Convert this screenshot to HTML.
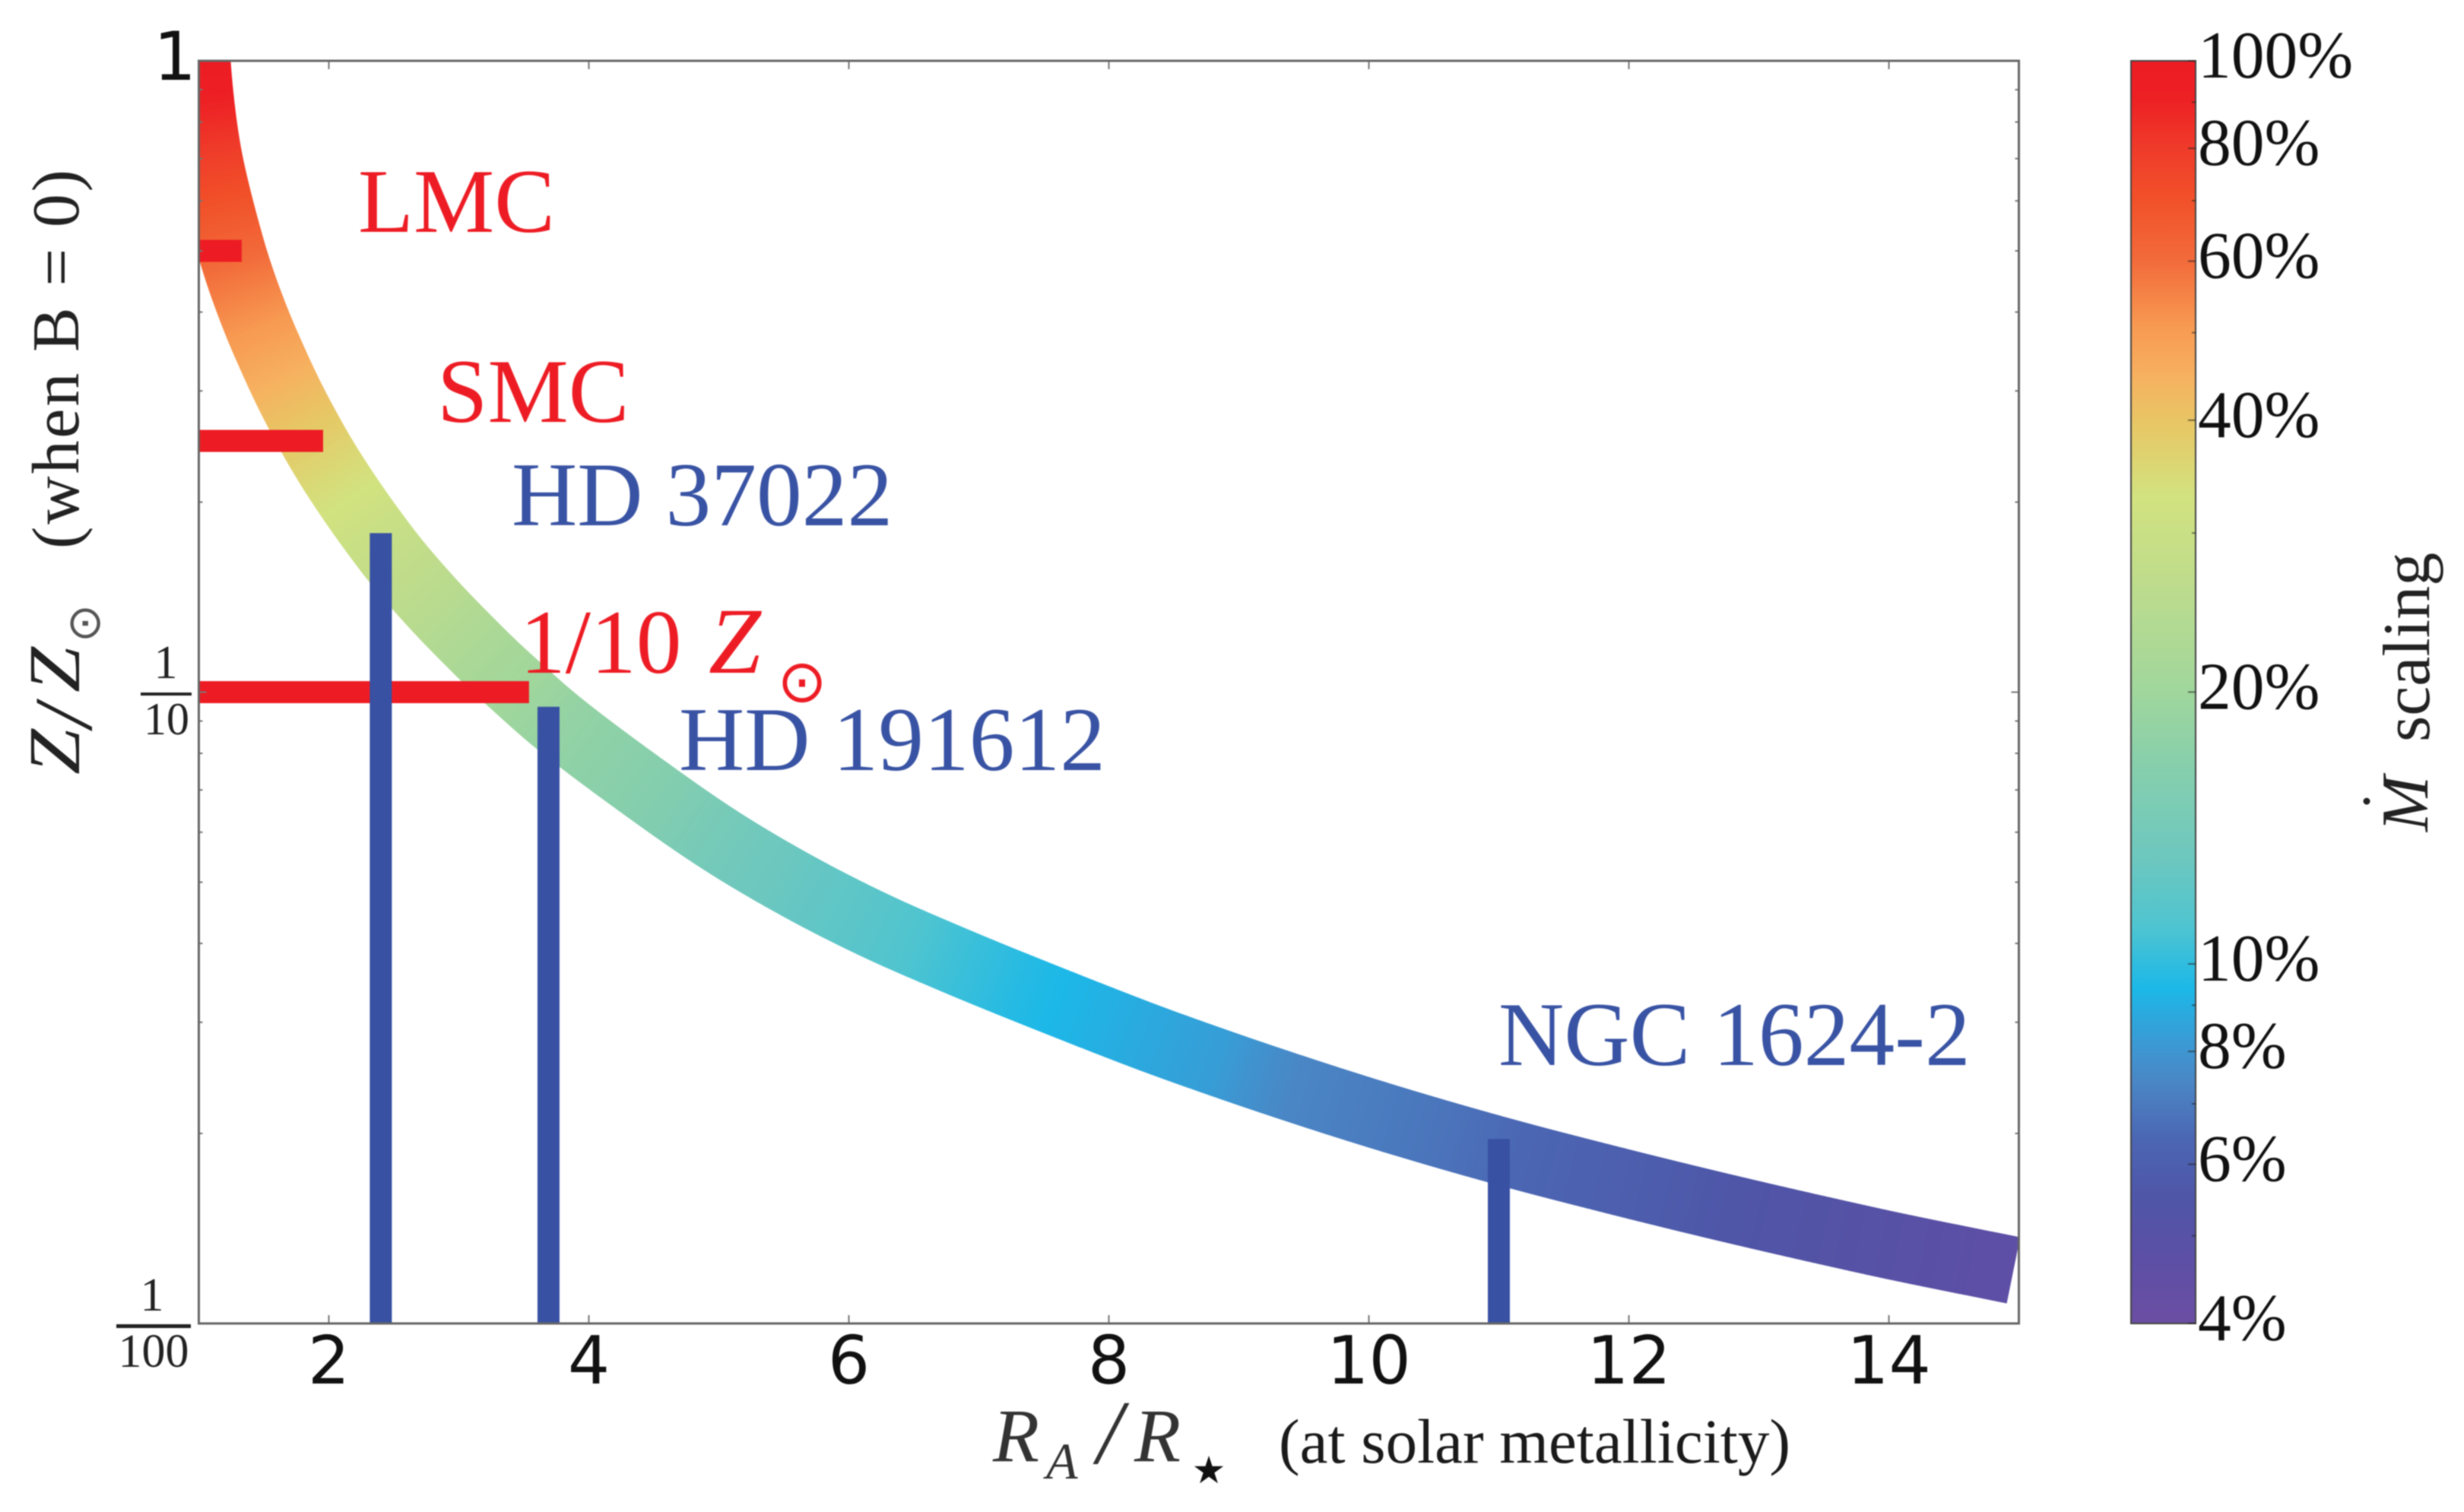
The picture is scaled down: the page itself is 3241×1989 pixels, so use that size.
<!DOCTYPE html>
<html lang="en">
<head>
<meta charset="utf-8">
<title>Metallicity vs Alfven radius chart</title>
<style>
html,body{margin:0;padding:0;background:#fff;width:3241px;height:1989px;overflow:hidden}
svg{display:block;position:absolute;left:0;top:0;filter:blur(0.7px)}
.serif{font-family:"Liberation Serif",serif}
.sans{font-family:"DejaVu Sans","Liberation Sans",sans-serif}
.dv{font-family:"DejaVu Sans",sans-serif}
</style>
</head>
<body>
<svg id="chart" xmlns="http://www.w3.org/2000/svg" width="3241" height="1989" viewBox="0 0 3241 1989">
  <defs>
    <clipPath id="plot-clip"><rect x="262" y="80" width="393" height="1661"/></clipPath>
    <linearGradient id="cbar-gradient" x1="0" y1="80" x2="0" y2="1741" gradientUnits="userSpaceOnUse"></linearGradient>
  </defs>
  <g id="curve-layer"></g>
  <g id="red-layer"></g>
  <g id="blue-layer"></g>
  <g id="frame-layer"></g>
  <g id="xtick-labels"></g>

  <text class="sans" x="258" y="105" font-size="88" text-anchor="end" fill="#111">1</text>

  <g fill="#222">
    <text class="serif" x="218" y="892" font-size="62" text-anchor="middle">1</text>
    <rect x="185" y="911" width="67" height="4"/>
    <text class="serif" x="219" y="966" font-size="60" text-anchor="middle">10</text>
  </g>
  <g fill="#222">
    <text class="serif" x="200" y="1724" font-size="62" text-anchor="middle">1</text>
    <rect x="153" y="1742" width="98" height="5"/>
    <text class="serif" x="202" y="1798" font-size="62" text-anchor="middle">100</text>
  </g>

  <g fill="#222">
    <text class="serif" transform="translate(104,1019) rotate(-90)" font-size="96" font-style="italic" textLength="60" lengthAdjust="spacingAndGlyphs">Z</text>
    <text class="serif" transform="translate(120,957) rotate(-90)" font-size="108" font-style="italic">/</text>
    <text class="serif" transform="translate(104,911) rotate(-90)" font-size="96" font-style="italic" textLength="60" lengthAdjust="spacingAndGlyphs">Z</text>
    <text class="dv" transform="translate(131,820) rotate(-90)" font-size="60" text-anchor="middle" fill="#555">⊙</text>
    <text class="serif" transform="translate(103,722) rotate(-90)" font-size="88" textLength="499" lengthAdjust="spacing">(when B = 0)</text>
  </g>

  <g fill="#333">
    <text class="serif" x="1306" y="1922" font-size="100" font-style="italic">R</text>
    <text class="serif" x="1376" y="1945" font-size="68" font-style="italic">A</text>
    <text class="serif" x="1443" y="1925" font-size="120" font-style="italic">/</text>
    <text class="serif" x="1492" y="1922" font-size="100" font-style="italic">R</text>
    <text class="dv" x="1590" y="1951" font-size="50" text-anchor="middle" fill="#111">★</text>
    <text class="serif" x="1682" y="1924" font-size="83" fill="#1a1a1a">(at solar metallicity)</text>
  </g>

  <g font-size="119.5">
    <text class="serif" x="471" y="305" fill="#ed1c24">LMC</text>
    <text class="serif" x="575" y="555" fill="#ed1c24">SMC</text>
    <text class="serif" x="673" y="691" fill="#3953a4">HD 37022</text>
    <text class="serif" x="684" y="885" fill="#ed1c24">1/10</text>
    <text class="serif" x="932" y="885" fill="#ed1c24" font-size="124" font-style="italic">Z</text>
    <text class="dv" x="1055" y="923" font-size="78" text-anchor="middle" fill="#ed1c24">⊙</text>
    <text class="serif" x="893" y="1013" fill="#3953a4">HD 191612</text>
    <text class="serif" x="1971" y="1401" fill="#3953a4">NGC 1624-2</text>
  </g>

  <rect id="cbar" x="2803" y="80" width="85" height="1661" fill="url(#cbar-gradient)" stroke="#444" stroke-width="2"/>
  <g id="cbar-ticks"></g>
  <g id="cbar-labels"></g>

  <g fill="#222">
    <text class="serif" transform="translate(3193,1094) rotate(-90)" font-size="88" font-style="italic">M</text>
    <circle cx="3113" cy="1054" r="4.5"/>
    <text class="serif" transform="translate(3195,976) rotate(-90)" font-size="88">scaling</text>
  </g>
</svg>

<script>
// ---- Chart data ----
var curveRA   = [0.97, 0.985, 1.035, 1.105, 1.254, 1.37, 1.5175, 1.7456, 2.0357, 2.4415, 2.7836, 3.1608, 3.3889, 3.7865, 4.4415, 5.0263, 5.6111, 6.196, 6.781, 7.365, 8.243, 8.827, 9.412, 9.997, 10.582, 11.167, 11.752, 12.336, 12.921, 13.506, 14.09, 14.956];
var curveLogZ = [-0.1, 0, 0.1023, 0.183, 0.301, 0.3733, 0.4491, 0.5491, 0.6538, 0.773, 0.8561, 0.9362, 0.9807, 1.0524, 1.1535, 1.2366, 1.3076, 1.369, 1.422, 1.4714, 1.5424, 1.5858, 1.6267, 1.6653, 1.7014, 1.7351, 1.7664, 1.7965, 1.8254, 1.8531, 1.8796, 1.9157];
var curveMdot = [100, 100, 85, 74.5, 61.6, 54.8, 48.5, 41.3, 34.8, 28.6, 25.3, 22, 20.6, 18.3, 16.4, 14, 12.6, 11.6, 10.5, 9.6, 8.8, 8.3, 7.4, 7.1, 6.8, 6.4, 6.1, 5.8, 5.45, 5.2, 4.95, 4.6];

var redMarkerZ  = [0.5, 0.25, 0.1];
var redMarkerRA = [1.33, 1.956, 3.54];
var redMarkerNames = ['lmc', 'smc', 'one-tenth-solar'];

var blueMarkerRA = [2.4, 3.69, 11];
var blueMarkerZ  = [0.1786, 0.0948, 0.0196];
var blueMarkerNames = ['hd-37022', 'hd-191612', 'ngc-1624-2'];

var xTicks = [2, 4, 6, 8, 10, 12, 14];
var yMajorTicks = [0.1];
var yMinorTicks = [0.9, 0.8, 0.7, 0.6, 0.5, 0.4, 0.3, 0.2, 0.09, 0.08, 0.07, 0.06, 0.05, 0.04, 0.03, 0.02];

var cbarPct    = [100, 90.8, 80, 70.5, 60, 50.7, 44.6, 39, 33, 26.8, 20, 16.8, 13, 11, 9.4, 8.2, 7.4, 6.4, 5.5, 4.7, 4];
var cbarColors = ['#ed1c24', '#ed2024', '#ef3b2a', '#f15029', '#f26b3a', '#f79a52', '#f6b15f', '#e5c966', '#d2e27f', '#bfdc8b', '#a0d69c', '#88cfab', '#6cc7bf', '#4ec4d0', '#1cb8e8', '#3a9ad4', '#4a86c5', '#4b66b3', '#4f55a7', '#5c4fa5', '#6b4ea3'];
var cbarMajorTicks = [100, 80, 60, 40, 20, 10, 8, 6, 4];
var cbarMinorTicks = [90, 70, 50, 30, 9, 7, 5];

// ---- Axis functions ----
var NS = 'http://www.w3.org/2000/svg';
function xScale(v) { return 261.5 + (v - 1) * 171; }
function yScaleLog(l) { return 80 + l * 830.5; }
function yScale(z) { return yScaleLog(-Math.log10(z)); }
function cbarScale(p) { return 80 + (2 - Math.log10(p)) * 1188; }

function hexToRgb(h) {
  return [parseInt(h.substr(1, 2), 16), parseInt(h.substr(3, 2), 16), parseInt(h.substr(5, 2), 16)];
}
function colorFor(p) {
  var lp = Math.log10(p);
  for (var i = 0; i < cbarPct.length - 1; i++) {
    var a = Math.log10(cbarPct[i]), b = Math.log10(cbarPct[i + 1]);
    if (lp <= a && lp >= b) {
      var t = (a - lp) / (a - b);
      var c1 = hexToRgb(cbarColors[i]), c2 = hexToRgb(cbarColors[i + 1]);
      return 'rgb(' + Math.round(c1[0] + (c2[0] - c1[0]) * t) + ',' + Math.round(c1[1] + (c2[1] - c1[1]) * t) + ',' + Math.round(c1[2] + (c2[2] - c1[2]) * t) + ')';
    }
  }
  return lp > 1 ? cbarColors[0] : cbarColors[cbarColors.length - 1];
}

// ---- Curve ----
(function drawCurve() {
  var layer = document.getElementById('curve-layer');
  layer.setAttribute('clip-path', 'url(#plot-clip)');
  document.querySelector('#plot-clip rect').setAttribute('width', String(xScale(15) - 262));
  var px = curveRA.map(xScale), py = curveLogZ.map(yScaleLog);
  var n = px.length, s = [0];
  for (var a0 = 1; a0 < n; a0++) {
    s.push(s[a0 - 1] + Math.hypot(px[a0] - px[a0 - 1], py[a0] - py[a0 - 1]));
  }
  function tangent(arr, i) {
    var lo = Math.max(0, i - 1), hi = Math.min(n - 1, i + 1);
    return (arr[hi] - arr[lo]) / (s[hi] - s[lo]);
  }
  function hermite(y0, y1, m0, m1, h, t) {
    var t2 = t * t, t3 = t2 * t;
    return (2 * t3 - 3 * t2 + 1) * y0 + (t3 - 2 * t2 + t) * h * m0 + (-2 * t3 + 3 * t2) * y1 + (t3 - t2) * h * m1;
  }
  var pts = [], steps = 24;
  for (var i = 0; i < n - 1; i++) {
    var h = s[i + 1] - s[i];
    for (var k0 = 0; k0 < steps; k0++) {
      var t = k0 / steps;
      pts.push({
        x: hermite(px[i], px[i + 1], tangent(px, i), tangent(px, i + 1), h, t),
        y: hermite(py[i], py[i + 1], tangent(py, i), tangent(py, i + 1), h, t),
        m: Math.pow(10, Math.log10(curveMdot[i]) * (1 - t) + Math.log10(curveMdot[i + 1]) * t)
      });
    }
  }
  pts.push({ x: px[n - 1], y: py[n - 1], m: curveMdot[n - 1] });
  var half = 44;
  for (var k = 0; k < pts.length; k++) {
    var a = pts[Math.max(0, k - 1)], b = pts[Math.min(pts.length - 1, k + 1)];
    var dx = b.x - a.x, dy = b.y - a.y, d = Math.sqrt(dx * dx + dy * dy) || 1;
    pts[k].nx = -dy / d;
    pts[k].ny = dx / d;
  }
  for (var j = 0; j < pts.length - 1; j++) {
    var p = pts[j], q = pts[j + 1];
    var poly = document.createElementNS(NS, 'polygon');
    
    
    poly.setAttribute('points',
      (p.x + p.nx * half) + ',' + (p.y + p.ny * half) + ' ' +
      (p.x - p.nx * half) + ',' + (p.y - p.ny * half) + ' ' +
      (q.x - q.nx * half) + ',' + (q.y - q.ny * half) + ' ' +
      (q.x + q.nx * half) + ',' + (q.y + q.ny * half));
    var col = colorFor(p.m);
    poly.setAttribute('fill', col);
    poly.setAttribute('stroke', col);
    poly.setAttribute('stroke-width', '0.8');
    layer.appendChild(poly);
  }
})();

// ---- Red horizontal markers ----
(function drawRed() {
  var layer = document.getElementById('red-layer');
  for (var i = 0; i < redMarkerZ.length; i++) {
    var r = document.createElementNS(NS, 'rect');
    
    
    r.setAttribute('x', String(xScale(1)));
    r.setAttribute('y', String(yScale(redMarkerZ[i]) - 14.5));
    r.setAttribute('width', String(xScale(redMarkerRA[i]) - xScale(1)));
    r.setAttribute('height', '29');
    r.setAttribute('fill', '#ed1c24');
    layer.appendChild(r);
  }
})();

// ---- Blue vertical markers ----
(function drawBlue() {
  var layer = document.getElementById('blue-layer');
  for (var i = 0; i < blueMarkerRA.length; i++) {
    var r = document.createElementNS(NS, 'rect');
    
    
    r.setAttribute('x', String(xScale(blueMarkerRA[i]) - 14.5));
    r.setAttribute('y', String(yScale(blueMarkerZ[i])));
    r.setAttribute('width', '29');
    r.setAttribute('height', String(yScale(0.01) - yScale(blueMarkerZ[i])));
    r.setAttribute('fill', '#3851a3');
    layer.appendChild(r);
  }
})();

// ---- Frame and ticks ----
(function drawFrame() {
  var layer = document.getElementById('frame-layer');
  var xL = xScale(1), xR = xScale(15), yT = yScale(1), yB = yScale(0.01);
  function tick(name, x1, y1, x2, y2) {
    var l = document.createElementNS(NS, 'line');
    
    
    l.setAttribute('x1', String(x1));
    l.setAttribute('y1', String(y1));
    l.setAttribute('x2', String(x2));
    l.setAttribute('y2', String(y2));
    l.setAttribute('stroke', '#777');
    l.setAttribute('stroke-width', '2');
    layer.appendChild(l);
  }
  xTicks.forEach(function (v) {
    tick('x-tick-bottom', xScale(v), yB, xScale(v), yB - 11);
    tick('x-tick-top', xScale(v), yT, xScale(v), yT + 11);
  });
  yMajorTicks.forEach(function (z) {
    tick('y-major-tick-left', xL, yScale(z), xL + 10, yScale(z));
    tick('y-major-tick-right', xR, yScale(z), xR - 10, yScale(z));
  });
  yMinorTicks.forEach(function (z) {
    tick('y-minor-tick-left', xL, yScale(z), xL + 5, yScale(z));
    tick('y-minor-tick-right', xR, yScale(z), xR - 5, yScale(z));
  });
  var f = document.createElementNS(NS, 'rect');
  
  
  f.setAttribute('x', String(xL));
  f.setAttribute('y', String(yT));
  f.setAttribute('width', String(xR - xL));
  f.setAttribute('height', String(yB - yT));
  f.setAttribute('fill', 'none');
  f.setAttribute('stroke', '#666');
  f.setAttribute('stroke-width', '3');
  layer.appendChild(f);

  var labels = document.getElementById('xtick-labels');
  xTicks.forEach(function (v) {
    var t = document.createElementNS(NS, 'text');
    
    
    t.setAttribute('class', 'sans');
    t.setAttribute('x', String(xScale(v)));
    t.setAttribute('y', '1820');
    t.setAttribute('font-size', '87');
    t.setAttribute('text-anchor', 'middle');
    t.setAttribute('fill', '#111');
    t.textContent = String(v);
    labels.appendChild(t);
  });
})();

// ---- Colorbar ----
(function drawColorbar() {
  var grad = document.getElementById('cbar-gradient');
  var span = cbarScale(4) - cbarScale(100);
  for (var i = 0; i < cbarPct.length; i++) {
    var st = document.createElementNS(NS, 'stop');
    st.setAttribute('offset', String((cbarScale(cbarPct[i]) - cbarScale(100)) / span));
    st.setAttribute('stop-color', cbarColors[i]);
    grad.appendChild(st);
  }
  var ticks = document.getElementById('cbar-ticks');
  function ctick(name, p, len) {
    var l = document.createElementNS(NS, 'line');
    
    
    l.setAttribute('x1', '2888');
    l.setAttribute('x2', String(2888 - len));
    l.setAttribute('y1', String(cbarScale(p)));
    l.setAttribute('y2', String(cbarScale(p)));
    l.setAttribute('stroke', 'rgba(30,30,30,0.55)');
    l.setAttribute('stroke-width', '2');
    ticks.appendChild(l);
  }
  cbarMajorTicks.forEach(function (p) { ctick('colorbar-major-tick', p, 10); });
  cbarMinorTicks.forEach(function (p) { ctick('colorbar-minor-tick', p, 5); });

  var labels = document.getElementById('cbar-labels');
  cbarMajorTicks.forEach(function (p) {
    var t = document.createElementNS(NS, 'text');
    
    
    t.setAttribute('class', 'serif');
    t.setAttribute('x', '2891');
    t.setAttribute('y', String(cbarScale(p) + 22));
    t.setAttribute('font-size', '87.5');
    t.setAttribute('fill', '#111');
    t.textContent = p + '%';
    labels.appendChild(t);
  });
})();
</script>
</body>
</html>
